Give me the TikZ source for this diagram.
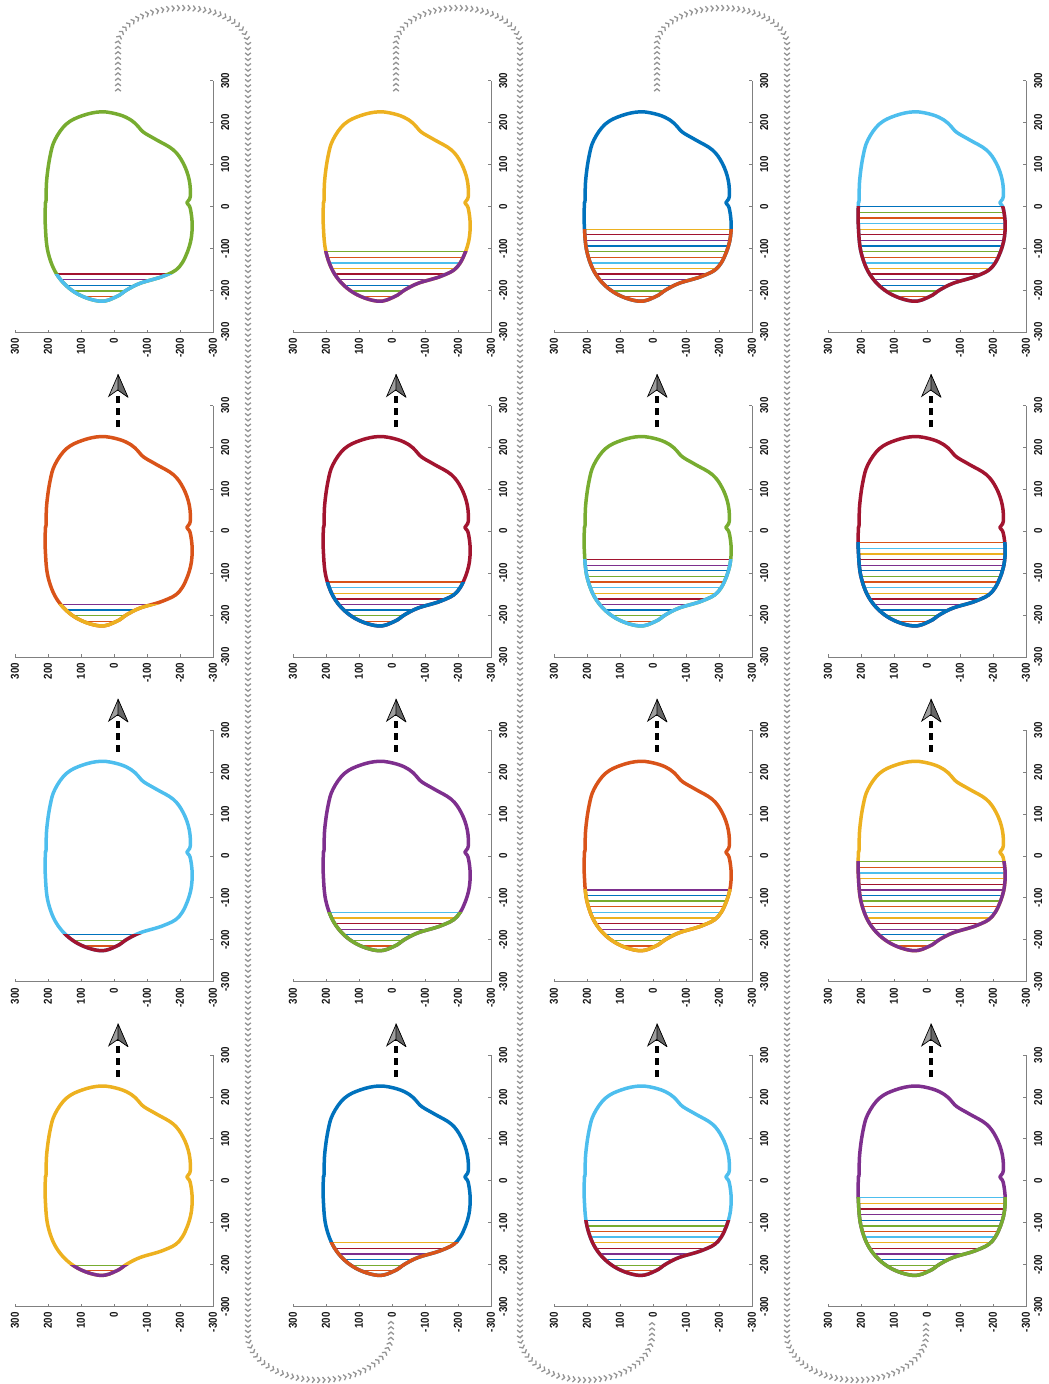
\documentclass[tikz,border=0pt]{standalone}
\usepackage{fontspec}
\setsansfont{Liberation Sans}
\usepackage{graphicx}
\usepackage{tikz}
\usetikzlibrary{arrows.meta,decorations.markings,calc}
\definecolor{mc0}{rgb}{0,0.447,0.741}
\definecolor{mc1}{rgb}{0.85,0.325,0.098}
\definecolor{mc2}{rgb}{0.929,0.694,0.125}
\definecolor{mc3}{rgb}{0.494,0.184,0.556}
\definecolor{mc4}{rgb}{0.466,0.674,0.188}
\definecolor{mc5}{rgb}{0.301,0.745,0.933}
\definecolor{mc6}{rgb}{0.635,0.078,0.184}
\definecolor{axgray}{rgb}{0.5,0.5,0.5}
\definecolor{chevgray}{rgb}{0.58,0.58,0.58}
% outline of the section, in plot units
\def\outln{plot[smooth cycle,tension=0.62] coordinates {(226,38) (217,95) (197,144) (159,179) (119,194) (63,204) (14,206) (6,208) (-48,208) (-112,199) (-167,169) (-207,114) (-226,42) (-215,-8) (-199,-39) (-183,-80) (-166,-150) (-144,-198) (-96,-228) (-48,-237) (-4,-231) (9,-221) (23,-231) (63,-228) (103,-210) (135,-180) (159,-129) (177,-90) (192,-72) (206,-52) (219,-16)}}
\newcommand{\ticklab}[1]{\scalebox{0.85}[1]{#1}}

\begin{document}
\begin{tikzpicture}[x=1pt,y=1pt,
  outl/.style={line width=3.5pt,line join=round},
  chord/.style={line width=1.3pt},
  axln/.style={draw=axgray,line width=0.8pt},
  tick/.style={rotate=90,inner sep=0pt,text=black!90,font=\sffamily\bfseries\fontsize{11.5}{12}\selectfont},
  flowarr/.style={line width=4pt,dash pattern=on 7pt off 5pt,
    -{Stealth[length=23pt,width=20pt,inset=7pt,line width=0.7pt,color=black,fill=gray!75]}},
  darkhalf/.style={fill=black!60,draw=black,line width=0.7pt,line join=round},
  chev/.style={decorate,decoration={markings,
    mark=between positions 0 and 1 step 5.3pt with {\arrow[chevgray,line width=1.3pt]{Straight Barb[length=2.3pt,width=5.8pt]}}}}
]
\useasboundingbox (0,0) rectangle (1049,-1384);

% sixteen panels, column/row/step
\foreach \cl/\rw/\nn in {1/4/0,1/3/1,1/2/2,1/1/3,2/4/4,2/3/5,2/2/6,2/1/7,3/4/8,3/3/9,3/2/10,3/1/11,4/4/12,4/3/14,4/2/13,4/1/15}{
  \pgfmathsetmacro\zx{{114,392,653,927}[\cl-1]}
  \pgfmathsetmacro\zy{206.5+324.73*(\rw-1)}
  \pgfmathtruncatemacro\K{\nn+1}
  \pgfmathsetmacro\xK{-215+13.4*\K}
  \pgfmathtruncatemacro\ca{mod(2+3*\nn,7)}
  \pgfmathtruncatemacro\cb{mod(3+3*\nn,7)}
  \coordinate (p\cl\rw) at (\zx,-\zy);
  \begin{scope}[shift={(\zx pt,-\zy pt)},x={(0pt,0.419pt)},y={(-0.33pt,0pt)}]
    \draw[axln] (-300,300) -- (-300,-300) -- (300,-300);
    \foreach \v in {-300,-200,...,300}{
      \draw[axln] (-300,\v) -- (-294,\v);
      \draw[axln] (\v,-300) -- (\v,-292);
      \node[tick,anchor=east] at (-314,\v) {\ticklab{\v}};
      \node[tick,anchor=north] at (\v,-324) {\ticklab{\v}};
    }
    \begin{scope}
      \clip \outln;
      \foreach \k in {0,...,\K}{
        \pgfmathtruncatemacro\ck{mod(1+3*\k,7)}
        \draw[chord,color=mc\ck] (-215+13.4*\k,-300) -- (-215+13.4*\k,300);
      }
    \end{scope}
    \draw[outl,color=mc\ca] \outln;
    \begin{scope}
      \clip (-400,-400) rectangle (\xK,400);
      \draw[outl,color=mc\cb] \outln;
    \end{scope}
  \end{scope}
}

% step arrows inside each column
\foreach \cl in {1,...,4}{
  \foreach \rw in {2,3,4}{
    \draw[flowarr] ([shift={(4pt,104pt)}]p\cl\rw) -- ([shift={(4pt,157pt)}]p\cl\rw);
    \filldraw[darkhalf] ([shift={(4pt,157pt)}]p\cl\rw) -- ++(10,-23) -- ++(-10,7) -- cycle;
  }
}

% carriage returns between columns
\path[chev] ([shift={(4pt,118.5pt)}]p11) -- ++(0,43)
  arc[start angle=180,end angle=0,x radius=65,y radius=37] -- (248,-1335)
  arc[start angle=180,end angle=360,x radius=71.5,y radius=45] -- ([shift={(-1pt,-137.3pt)}]p24);
\path[chev] ([shift={(4pt,118.5pt)}]p21) -- ++(0,43)
  arc[start angle=180,end angle=0,x radius=62,y radius=37] -- (520,-1335)
  arc[start angle=180,end angle=360,x radius=66,y radius=45] -- ([shift={(-1pt,-137.3pt)}]p34);
\path[chev] ([shift={(4pt,118.5pt)}]p31) -- ++(0,43)
  arc[start angle=180,end angle=0,x radius=65,y radius=37] -- (787,-1335)
  arc[start angle=180,end angle=360,x radius=69.5,y radius=45] -- ([shift={(-1pt,-137.3pt)}]p44);
\end{tikzpicture}
\end{document}
